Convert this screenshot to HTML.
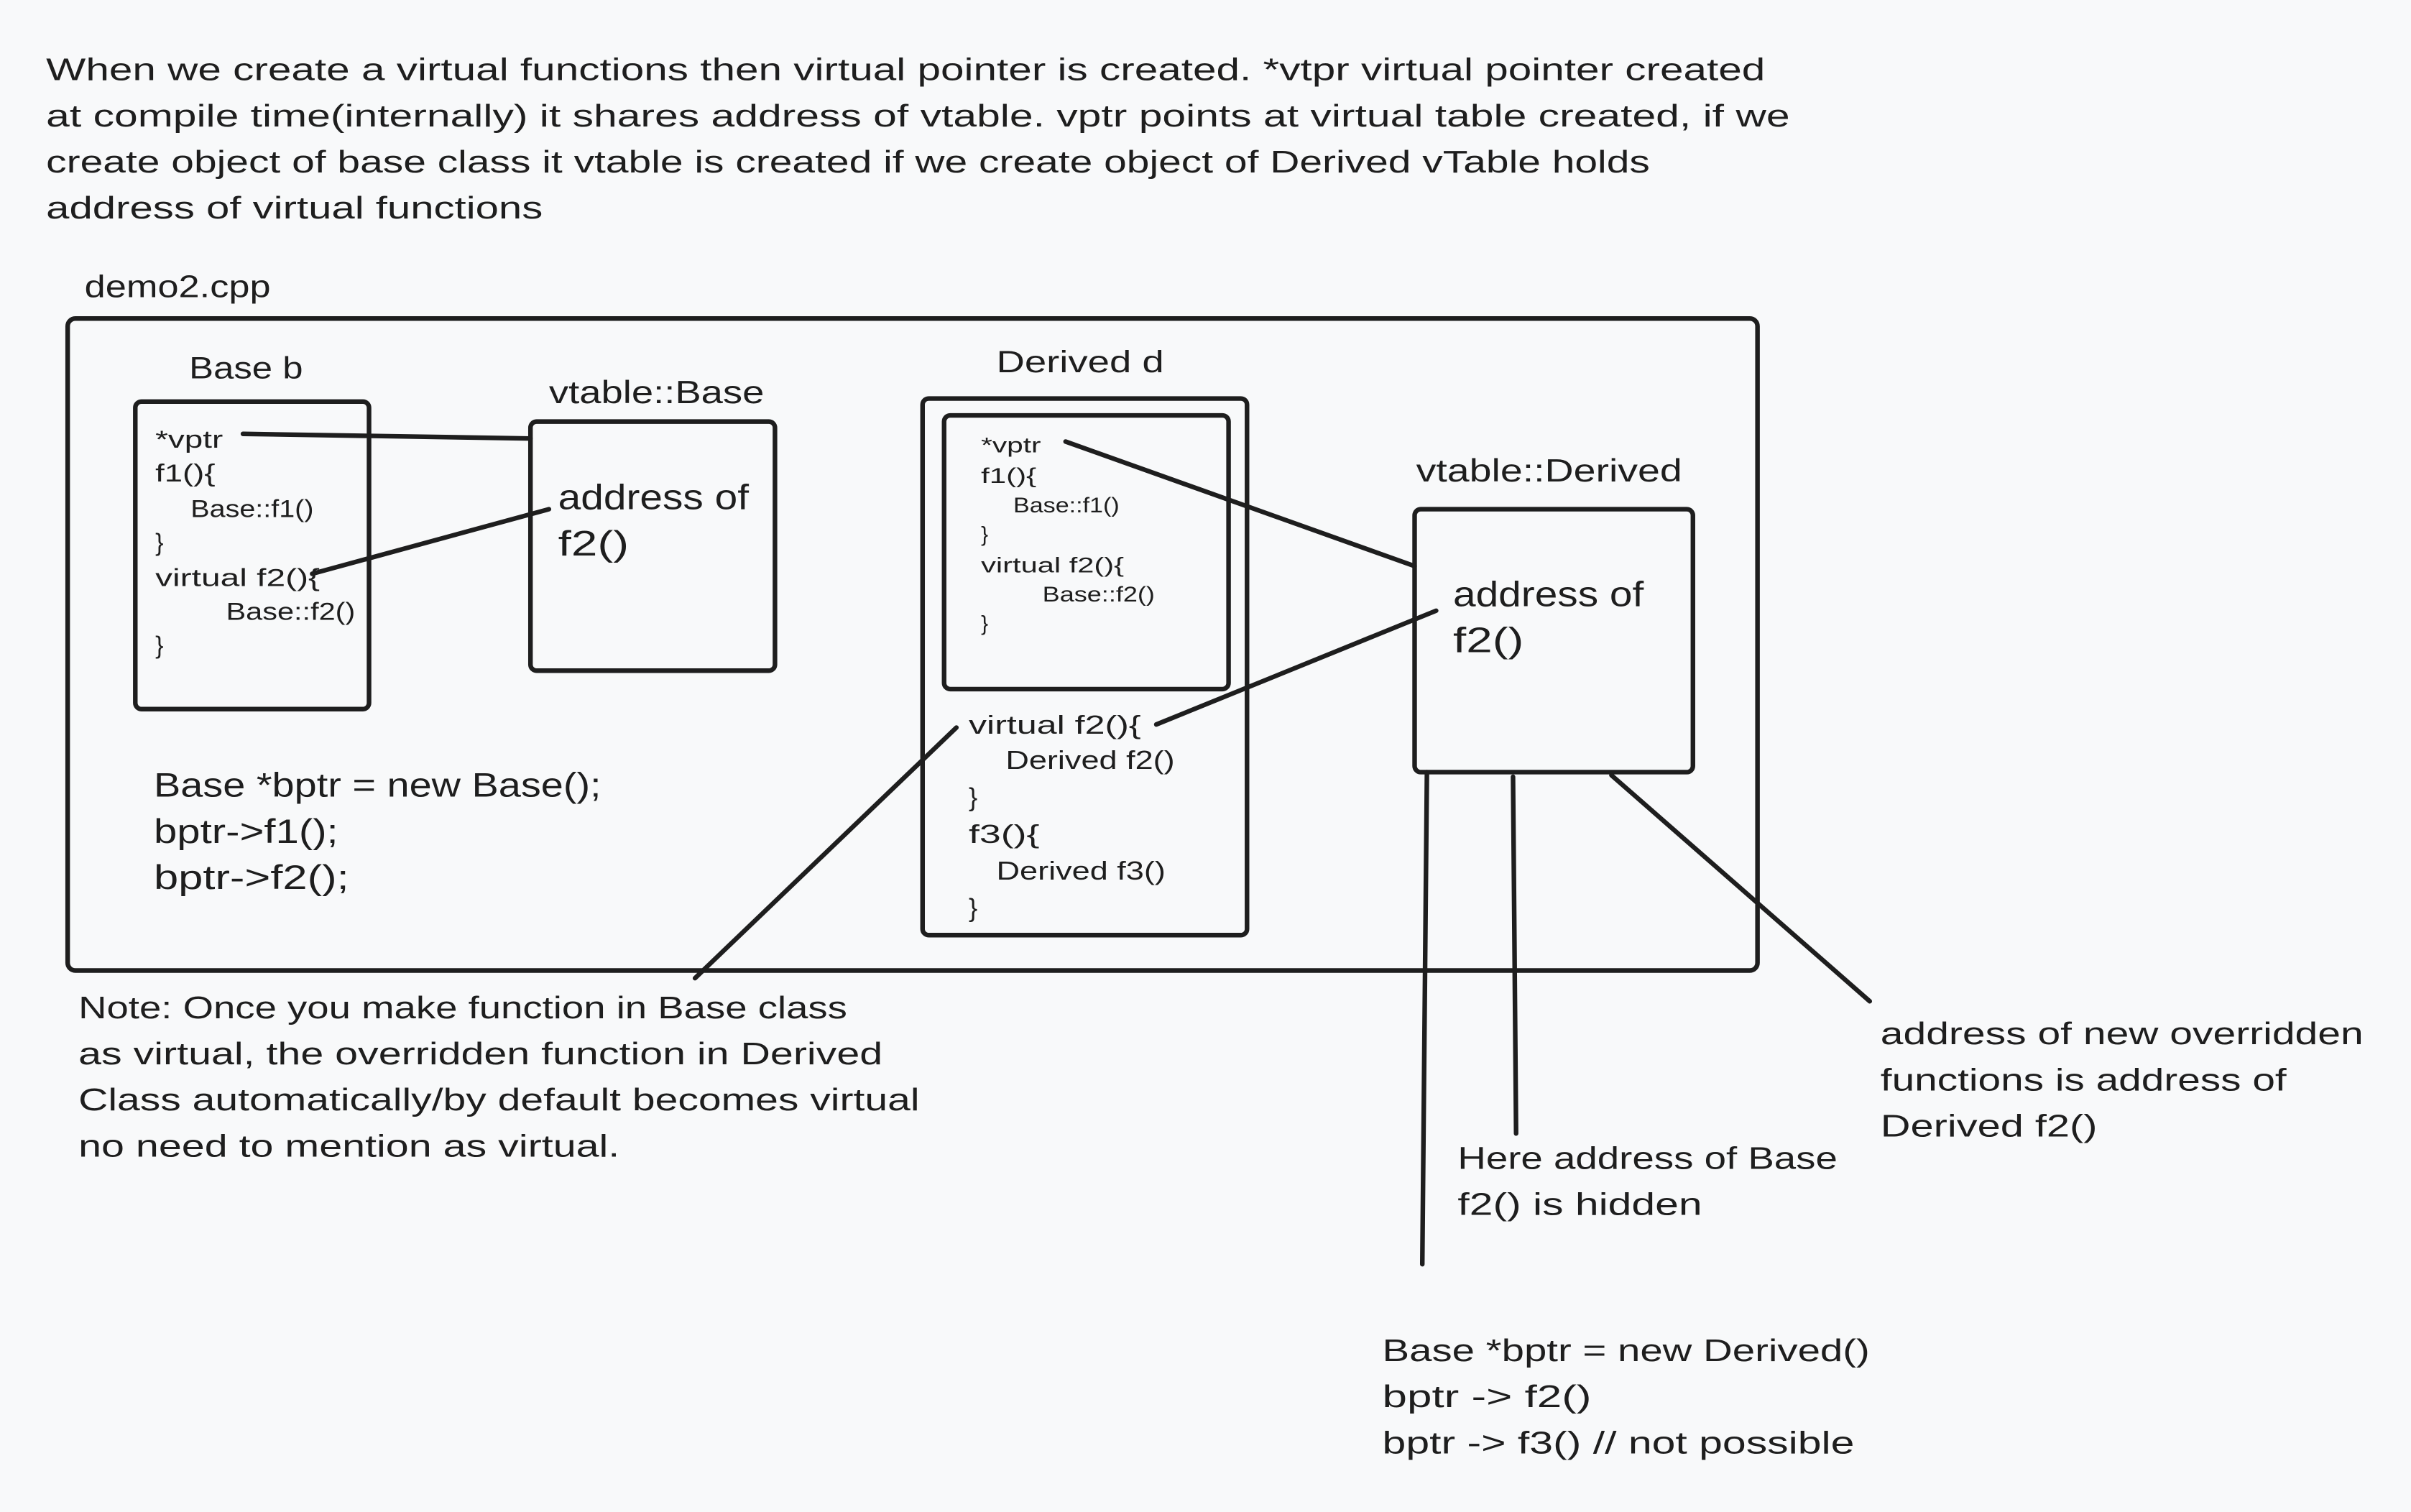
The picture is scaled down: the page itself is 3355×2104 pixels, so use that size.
<!DOCTYPE html>
<html><head><meta charset="utf-8"><style>
html,body{margin:0;padding:0;background:#f8f9fa;}
svg{display:block}
text{font-family:"Liberation Sans",sans-serif;fill:#1e1e1e;}
</style></head><body>
<svg width="3355" height="2104" viewBox="0 0 1568 983" xmlns="http://www.w3.org/2000/svg">
<rect width="1568" height="983" fill="#f8f9fa"/>
<g font-size="20.5" lengthAdjust="spacingAndGlyphs">
<text x="30" y="52" textLength="1118" lengthAdjust="spacingAndGlyphs">When we create a virtual functions then virtual pointer is created. *vtpr virtual pointer created</text>
<text x="30" y="82" textLength="1134" lengthAdjust="spacingAndGlyphs">at compile time(internally) it shares address of vtable. vptr points at virtual table created, if we</text>
<text x="30" y="112" textLength="1043" lengthAdjust="spacingAndGlyphs">create object of base class it vtable is created if we create object of Derived vTable holds</text>
<text x="30" y="142" textLength="323" lengthAdjust="spacingAndGlyphs">address of virtual functions</text>
<text x="55" y="193" textLength="121" lengthAdjust="spacingAndGlyphs">demo2.cpp</text>
</g>
<g fill="none" stroke="#1e1e1e" stroke-width="3" stroke-linecap="round">
<rect x="44" y="207" width="1099" height="424" rx="5"/>
<rect x="88" y="261" width="152" height="200" rx="4"/>
<rect x="345" y="274" width="159" height="162" rx="4"/>
<rect x="600" y="259" width="211" height="349" rx="4"/>
<rect x="614" y="270" width="185" height="178" rx="4"/>
<rect x="920" y="331" width="181" height="171" rx="4"/>
<path d="M158 282 L345 285"/>
<path d="M203 373 L357 331"/>
<path d="M693 287 L920 368"/>
<path d="M752 471 L934 397"/>
<path d="M622 473 L452 636"/>
<path d="M928 502 L925 822"/>
<path d="M984 505 L986 737"/>
<path d="M1048 504 L1216 651"/>
</g>
<text x="123" y="246" font-size="20" textLength="74" lengthAdjust="spacingAndGlyphs">Base b</text>
<g font-size="16">
<text x="101" y="291" textLength="44" lengthAdjust="spacingAndGlyphs">*vptr</text>
<text x="101" y="313" textLength="39" lengthAdjust="spacingAndGlyphs">f1(){</text>
<text x="124" y="336" textLength="80" lengthAdjust="spacingAndGlyphs">Base::f1()</text>
<text x="101" y="358">}</text>
<text x="101" y="381" textLength="107" lengthAdjust="spacingAndGlyphs">virtual f2(){</text>
<text x="147" y="403" textLength="84" lengthAdjust="spacingAndGlyphs">Base::f2()</text>
<text x="101" y="425">}</text>
</g>
<text x="357" y="262" font-size="21" textLength="140" lengthAdjust="spacingAndGlyphs">vtable::Base</text>
<text x="363" y="331" font-size="23" textLength="124" lengthAdjust="spacingAndGlyphs">address of</text>
<text x="363" y="361" font-size="23" textLength="46" lengthAdjust="spacingAndGlyphs">f2()</text>
<g font-size="22">
<text x="100" y="518" textLength="291" lengthAdjust="spacingAndGlyphs">Base *bptr = new Base();</text>
<text x="100" y="548" textLength="120" lengthAdjust="spacingAndGlyphs">bptr-&gt;f1();</text>
<text x="100" y="578" textLength="127" lengthAdjust="spacingAndGlyphs">bptr-&gt;f2();</text>
</g>
<text x="648" y="242" font-size="20" textLength="109" lengthAdjust="spacingAndGlyphs">Derived d</text>
<g font-size="14">
<text x="638" y="294" textLength="39" lengthAdjust="spacingAndGlyphs">*vptr</text>
<text x="638" y="314" textLength="36" lengthAdjust="spacingAndGlyphs">f1(){</text>
<text x="659" y="333" textLength="69" lengthAdjust="spacingAndGlyphs">Base::f1()</text>
<text x="638" y="352">}</text>
<text x="638" y="372" textLength="93" lengthAdjust="spacingAndGlyphs">virtual f2(){</text>
<text x="678" y="391" textLength="73" lengthAdjust="spacingAndGlyphs">Base::f2()</text>
<text x="638" y="410">}</text>
</g>
<g font-size="17">
<text x="630" y="477" textLength="112" lengthAdjust="spacingAndGlyphs">virtual f2(){</text>
<text x="654" y="500" textLength="110" lengthAdjust="spacingAndGlyphs">Derived f2()</text>
<text x="630" y="524">}</text>
<text x="630" y="548" textLength="46" lengthAdjust="spacingAndGlyphs">f3(){</text>
<text x="648" y="572" textLength="110" lengthAdjust="spacingAndGlyphs">Derived f3()</text>
<text x="630" y="596">}</text>
</g>
<text x="921" y="313" font-size="21" textLength="173" lengthAdjust="spacingAndGlyphs">vtable::Derived</text>
<text x="945" y="394" font-size="23" textLength="124" lengthAdjust="spacingAndGlyphs">address of</text>
<text x="945" y="424" font-size="23" textLength="46" lengthAdjust="spacingAndGlyphs">f2()</text>
<g font-size="20.5">
<text x="51" y="662" textLength="500" lengthAdjust="spacingAndGlyphs">Note: Once you make function in Base class</text>
<text x="51" y="692" textLength="523" lengthAdjust="spacingAndGlyphs">as virtual, the overridden function in Derived</text>
<text x="51" y="722" textLength="547" lengthAdjust="spacingAndGlyphs">Class automatically/by default becomes virtual</text>
<text x="51" y="752" textLength="352" lengthAdjust="spacingAndGlyphs">no need to mention as virtual.</text>
<text x="948" y="760" textLength="247" lengthAdjust="spacingAndGlyphs">Here address of Base</text>
<text x="948" y="790" textLength="159" lengthAdjust="spacingAndGlyphs">f2() is hidden</text>
<text x="1223" y="679" textLength="314" lengthAdjust="spacingAndGlyphs">address of new overridden</text>
<text x="1223" y="709" textLength="264" lengthAdjust="spacingAndGlyphs">functions is address of</text>
<text x="1223" y="739" textLength="141" lengthAdjust="spacingAndGlyphs">Derived f2()</text>
<text x="899" y="885" textLength="317" lengthAdjust="spacingAndGlyphs">Base *bptr = new Derived()</text>
<text x="899" y="915" textLength="136" lengthAdjust="spacingAndGlyphs">bptr -&gt; f2()</text>
<text x="899" y="945" textLength="307" lengthAdjust="spacingAndGlyphs">bptr -&gt; f3() // not possible</text>
</g>
</svg>
</body></html>
